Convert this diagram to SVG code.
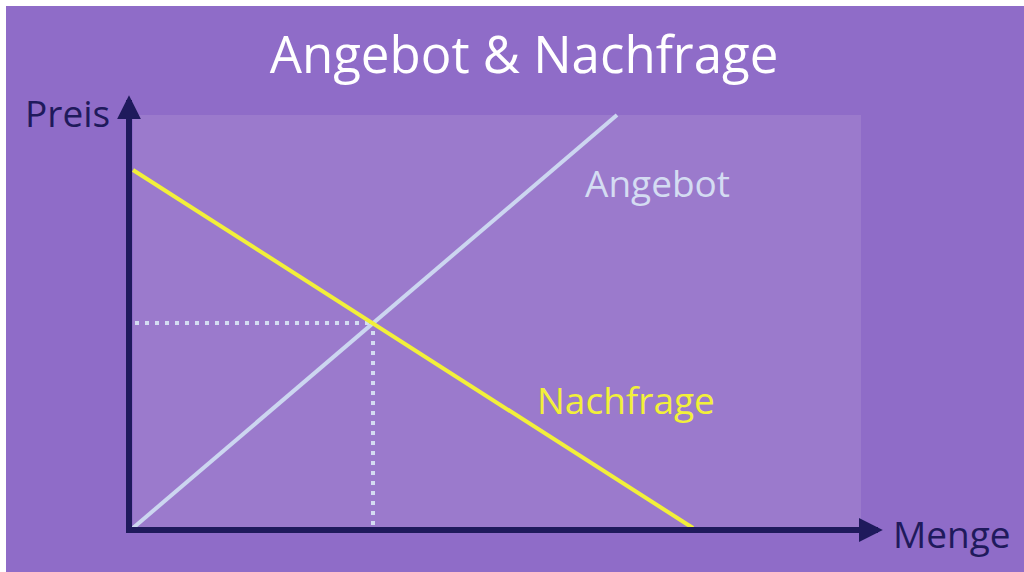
<svg xmlns="http://www.w3.org/2000/svg" width="1024" height="572" viewBox="0 0 1024 572">
<defs>
<style>
.ax{stroke:#1F1A5C;stroke-width:6;fill:none}
.lbl{font-family:"Open Sans","Noto Sans",sans-serif;font-size:37px}
.dot{stroke:#D4DCF2;stroke-width:4;stroke-dasharray:4 6;fill:none}
</style>
<marker id="ah" viewBox="0 0 10 10" refX="8" refY="5" markerWidth="4" markerHeight="4" markerUnits="strokeWidth" orient="auto">
<path d="M0,0 L10,5 L0,10 Z" fill="#1F1A5C"/>
</marker>
</defs>
<rect width="1024" height="572" fill="#FFFFFF"/>
<rect x="6" y="6" width="1018" height="566" fill="#8F6CC8"/>
<rect id="panel" x="133" y="115" width="728" height="414" fill="#9B7ACC"/>
<text x="524" y="73" text-anchor="middle" font-family="'Open Sans','Noto Sans',sans-serif" font-size="51" fill="#FFFFFF">Angebot &amp; Nachfrage</text>
<g id="connectors">
<line class="dot" x1="135" y1="323" x2="370" y2="323"/>
<line class="dot" x1="373" y1="331" x2="373" y2="527"/>
<line x1="133" y1="528" x2="617" y2="115" stroke="#CCD6F0" stroke-width="4"/>
<line x1="133" y1="170" x2="693" y2="528" stroke="#F2F03A" stroke-width="4"/>
<line class="ax" x1="129" y1="533" x2="129" y2="100" marker-end="url(#ah)"/>
<line class="ax" x1="126" y1="530" x2="878" y2="530" marker-end="url(#ah)"/>
</g>
<g id="axis-y"><text class="lbl" x="25" y="127" fill="#1F1A5C">Preis</text></g>
<g id="axis-x"><text class="lbl" x="893" y="548" fill="#1F1A5C">Menge</text></g>
<g id="supply"><text class="lbl" x="585" y="197" fill="#D4DCF2">Angebot</text></g>
<g id="demand"><text class="lbl" x="537" y="414" fill="#F2F03A">Nachfrage</text></g>
</svg>
